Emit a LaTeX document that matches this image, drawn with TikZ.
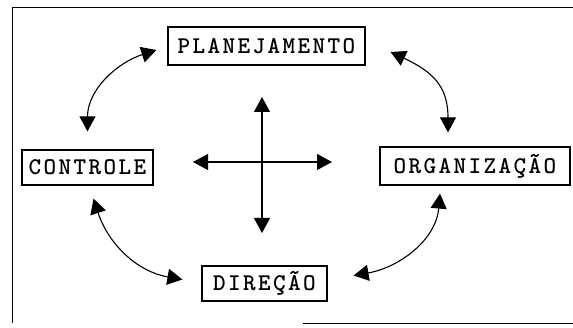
\documentclass[tikz,border=0pt]{standalone}
\usepackage{fontspec}
\newfontfamily\boxfont{lmmonolt10-bold.otf}[LetterSpace=10]
\usetikzlibrary{arrows.meta}

\tikzset{
  >={Triangle[length=15pt,width=16pt]},
  box/.style={draw,line width=1.2pt,inner sep=0pt,
    font=\boxfont\fontsize{24}{24}\selectfont},
  link/.style={line width=1.1pt,<->},
}

\begin{document}
\begin{tikzpicture}[x=1pt,y=1pt]
\useasboundingbox (0,0) rectangle (573,327);

% frame
\draw[line width=1pt] (12,4) -- (12,319) -- (580,319);
\draw[line width=1pt] (303,4) -- (580,4);

% the four functions
\node[box,minimum width=197pt,minimum height=38pt] (plan) at (266.5,281) {PLANEJAMENTO};
\node[box,minimum width=131pt,minimum height=35pt] (ctrl) at (87.5,159.5) {CONTROLE};
\node[box,minimum width=190pt,minimum height=38pt] (org) at (475,161) {ORGANIZAÇÃO};
\node[box,minimum width=125pt,minimum height=35pt] (dir) at (264.5,43.5) {DIREÇÃO};

% the cycle
\draw[link] ([yshift=18pt]ctrl.north) to[out=90,in=198] ([shift={(-11pt,-4pt)}]plan.west);
\draw[link] ([shift={(-27pt,14pt)}]org.north) to[out=90,in=-25,looseness=1.2] ([shift={(25pt,-6pt)}]plan.east);
\draw[link] ([shift={(6pt,-13pt)}]ctrl.south) to[out=-72,in=170] ([shift={(-19pt,4pt)}]dir.west);
\draw[link] ([shift={(-35pt,-8pt)}]org.south) to[out=-95,in=10] ([shift={(26pt,8pt)}]dir.east);

% the cross in the middle
\coordinate (mid) at (262,165);
\foreach \dx/\dy in {0/65,0/-71,-69/0,70/0}
\draw[line width=1.1pt,->] (mid) -- ++(\dx,\dy);

\end{tikzpicture}
\end{document}
